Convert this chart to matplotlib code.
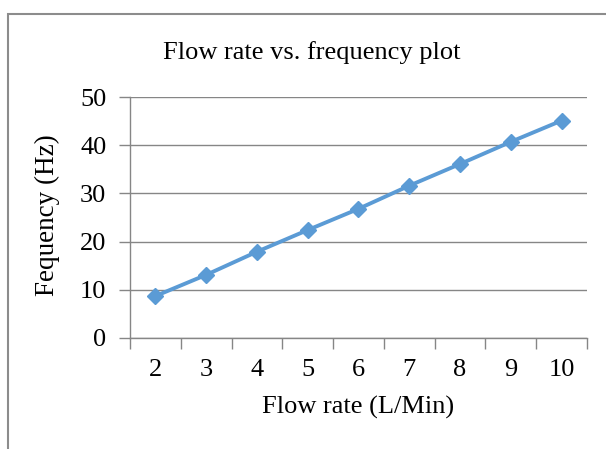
import matplotlib.pyplot as plt
import numpy as np
from matplotlib.patches import Rectangle

flow_rate = ['2', '3', '4', '5', '6', '7', '8', '9', '10']
frequency = [8.7, 13.1, 17.9, 22.4, 26.8, 31.6, 36.1, 40.7, 45.1]

plt.rcParams['font.family'] = ['Liberation Serif', 'DejaVu Serif']

fig = plt.figure(figsize=(6.06, 4.49), dpi=100)
# outer chart frame, cut off at right and bottom like the screenshot
fig.patches.append(Rectangle((8 / 606, -0.1), 1.2, 1 - 13.5 / 449 + 0.1,
                             transform=fig.transFigure, fill=False,
                             edgecolor='#8c8c8c', linewidth=1.5))

ax = fig.add_axes([130 / 606, 111 / 449, 457 / 606, 241 / 449])
x = np.arange(len(flow_rate))
ax.plot(x, frequency, color='#5b9bd5', linewidth=2.8, marker='D',
        markersize=8.5, markeredgecolor='#5b9bd5', zorder=3)

ax.set_xlim(-0.5, len(flow_rate) - 0.5)
ax.set_ylim(0, 50)
ax.set_yticks(range(0, 51, 10))
ax.yaxis.grid(True, color='#868686', linewidth=1)
ax.set_axisbelow(True)

ax.set_xticks(np.arange(-0.5, len(flow_rate), 1.0))
ax.set_xticklabels([])
ax.set_xticks(x, minor=True)
ax.set_xticklabels(flow_rate, minor=True)
ax.tick_params(axis='x', which='major', length=8, color='#868686', width=1)
ax.tick_params(axis='x', which='minor', length=0, labelsize=19, pad=15)
ax.tick_params(axis='y', length=8, color='#868686', width=1, labelsize=19, pad=9)

for s in ['top', 'right']:
    ax.spines[s].set_visible(False)
for s in ['left', 'bottom']:
    ax.spines[s].set_color('#868686')
    ax.spines[s].set_linewidth(1)

fig.text(358 / 606, 1 - 407 / 449, 'Flow rate (L/Min)', fontsize=19,
         ha='center', va='center')
fig.text(47 / 606, 1 - 215 / 449, 'Fequency (Hz)', fontsize=19.5,
         ha='center', va='center', rotation=90)
fig.text(312 / 606, 1 - 53 / 449, 'Flow rate vs. frequency plot', fontsize=19,
         ha='center', va='center')

fig.savefig('out.png', dpi=100)
